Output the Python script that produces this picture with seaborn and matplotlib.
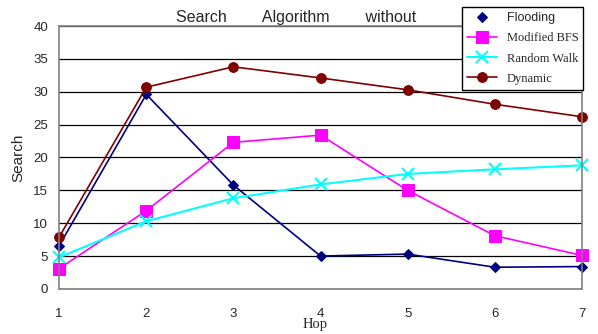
import numpy as np
import matplotlib
matplotlib.use("Agg")
import matplotlib.pyplot as plt
import seaborn as sns

hops = [1, 2, 3, 4, 5, 6, 7]
flooding = [6.6, 29.6, 15.8, 5.0, 5.3, 3.3, 3.4]
modified_bfs = [3.1, 11.9, 22.3, 23.4, 15.0, 8.1, 5.1]
random_walk = [4.8, 10.3, 13.8, 15.9, 17.5, 18.2, 18.8]
dynamic = [7.9, 30.7, 33.8, 32.1, 30.3, 28.1, 26.2]
yticks = [0, 5, 10, 15, 20, 25, 30, 35, 40]

sns.set_style("white")
plt.rcParams['font.family'] = ['Liberation Sans', 'DejaVu Sans']

fig = plt.figure(figsize=(5.98, 3.34), dpi=100)
ax = fig.add_axes([0.099, 0.135, 0.874, 0.787])

sns.lineplot(x=hops, y=flooding, ax=ax, color='#000080', marker='D', markersize=5,
             markeredgecolor='#000080', linewidth=1.2, label='Flooding', clip_on=False)
sns.lineplot(x=hops, y=modified_bfs, ax=ax, color='#ff00ff', marker='s', markersize=8,
             markeredgecolor='#ff00ff', linewidth=1.2, label='Modified BFS', clip_on=False)
sns.lineplot(x=hops, y=random_walk, ax=ax, color='#00ffff', marker='x', markersize=8,
             markeredgecolor='#00ffff', markeredgewidth=1.5, linewidth=1.5,
             label='Random Walk', clip_on=False)
sns.lineplot(x=hops, y=dynamic, ax=ax, color='#800000', marker='o', markersize=7,
             markeredgecolor='#800000', linewidth=1.2, label='Dynamic', clip_on=False)

ax.set_xlim(1, 7)
ax.set_ylim(0, 40)
ax.set_yticks(yticks)
ax.set_xticks(hops)
ax.yaxis.grid(True, color='black', linewidth=0.9)
ax.set_axisbelow(True)
for s in ax.spines.values():
    s.set_color('#808080')
    s.set_linewidth(1.2)
ax.tick_params(axis='x', direction='in', length=4, color='#404040', pad=14, labelsize=9.5)
ax.tick_params(axis='y', length=0, pad=8, labelsize=9.5)

ax.set_xlabel('Hop', family='Liberation Serif', fontsize=10.5)
ax.xaxis.set_label_coords(0.49, -0.11, transform=ax.transAxes)
ax.xaxis.label.set_va('top')
ax.set_ylabel('Search', fontsize=11, labelpad=6)
fig.text(0.495, 0.935, 'Search        Algorithm        without', ha='center',
         fontsize=11.5)

leg = ax.legend(loc='upper right', bbox_to_anchor=(1.015, 1.095), frameon=True,
                fancybox=False, edgecolor='black', framealpha=1,
                prop={'family': 'Liberation Serif', 'size': 9},
                handlelength=2.4, labelspacing=0.65, borderpad=0.4)
leg.get_frame().set_linewidth(1.0)
leg.get_texts()[0].set_fontfamily('Liberation Sans')
leg.get_lines()[0].set_linestyle('none')

fig.savefig('out.png', dpi=100)
